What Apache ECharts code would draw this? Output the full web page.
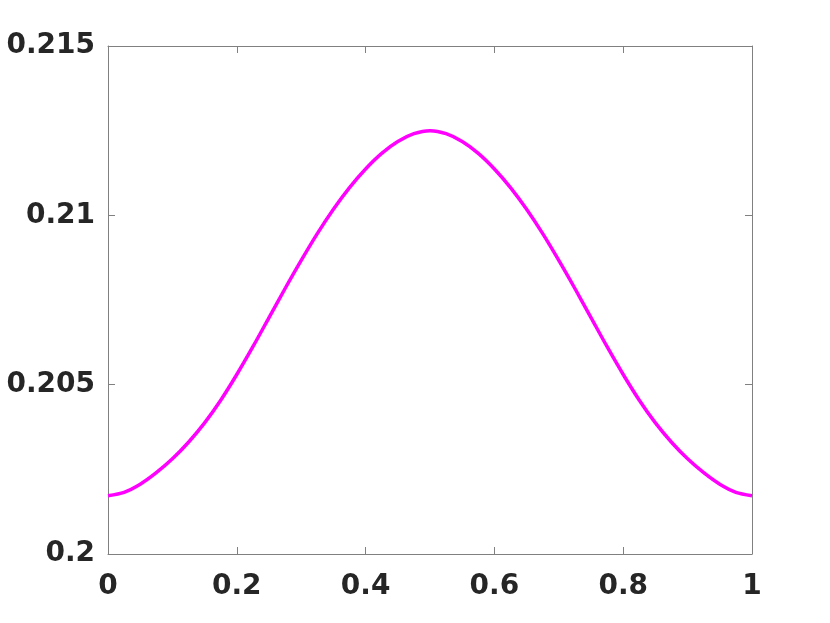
<!DOCTYPE html>
<html><head><meta charset="utf-8">
<script src="https://cdn.jsdelivr.net/npm/echarts@6/dist/echarts.min.js"></script>
<style>html,body{margin:0;padding:0;background:#fff}#c{width:830px;height:623px}</style>
</head><body><div id="c"></div>
<script>
const xValues = [0, 0.025, 0.05, 0.075, 0.1, 0.125, 0.15, 0.175, 0.2, 0.225, 0.25, 0.275, 0.3, 0.325, 0.35, 0.375, 0.4, 0.425, 0.45, 0.475, 0.5,
  0.525, 0.55, 0.575, 0.6, 0.625, 0.65, 0.675, 0.7, 0.725, 0.75, 0.775, 0.8, 0.825, 0.85, 0.875, 0.9, 0.925, 0.95, 0.975, 1];
const yValues = [0.20172, 0.20182, 0.20206, 0.20240, 0.20281, 0.20330, 0.20387, 0.20454, 0.20530, 0.20612, 0.20698, 0.20784, 0.20867, 0.20946, 0.21018, 0.21082, 0.21137, 0.21183, 0.21218, 0.21241, 0.21250,
  0.21241, 0.21218, 0.21183, 0.21137, 0.21082, 0.21018, 0.20946, 0.20867, 0.20784, 0.20698, 0.20612, 0.20530, 0.20454, 0.20387, 0.20330, 0.20281, 0.20240, 0.20206, 0.20182, 0.20172];
const xTicks = ['0', '0.2', '0.4', '0.6', '0.8', '1'];
const yTicks = ['0.2', '0.205', '0.21', '0.215'];

const chart = echarts.init(document.getElementById('c'), null, {renderer: 'canvas'});
const lineCol = '#808080';
const txt = {color: '#262626', fontFamily: 'DejaVu Sans', fontWeight: 'bold', fontSize: 28};
function fmt(v){ return String(+v.toFixed(3)); }
const xBase = {type: 'value', min: 0, max: 1, interval: 0.2,
  axisLine: {show: true, onZero: false, lineStyle: {color: lineCol, width: 1}},
  axisTick: {show: true, inside: true, length: 7, lineStyle: {color: lineCol}},
  splitLine: {show: false}};
const yBase = {type: 'value', min: 0.2, max: 0.215, interval: 0.005,
  axisLine: {show: true, onZero: false, lineStyle: {color: lineCol, width: 1}},
  axisTick: {show: true, inside: true, length: 7, lineStyle: {color: lineCol}},
  splitLine: {show: false}};
chart.setOption({
  animation: false,
  backgroundColor: '#fff',
  grid: {left: 108, right: 78, top: 46, bottom: 69, containLabel: false},
  xAxis: [
    Object.assign({}, xBase, {position: 'bottom', axisLabel: Object.assign({margin: 19, formatter: v => xTicks.includes(fmt(v)) ? fmt(v) : ''}, txt)}),
    Object.assign({}, xBase, {position: 'top', axisLabel: {show: false}})
  ],
  yAxis: [
    Object.assign({}, yBase, {position: 'left', axisLabel: Object.assign({margin: 13, formatter: v => yTicks.includes(fmt(v)) ? fmt(v) : ''}, txt)}),
    Object.assign({}, yBase, {position: 'right', axisLabel: {show: false}})
  ],
  series: [{
    type: 'line', xAxisIndex: 0, yAxisIndex: 0,
    data: xValues.map((x, i) => [x, yValues[i]]),
    smooth: 0.3, showSymbol: false,
    lineStyle: {color: '#ff00ff', width: 3.5}
  }]
});
</script></body></html>
